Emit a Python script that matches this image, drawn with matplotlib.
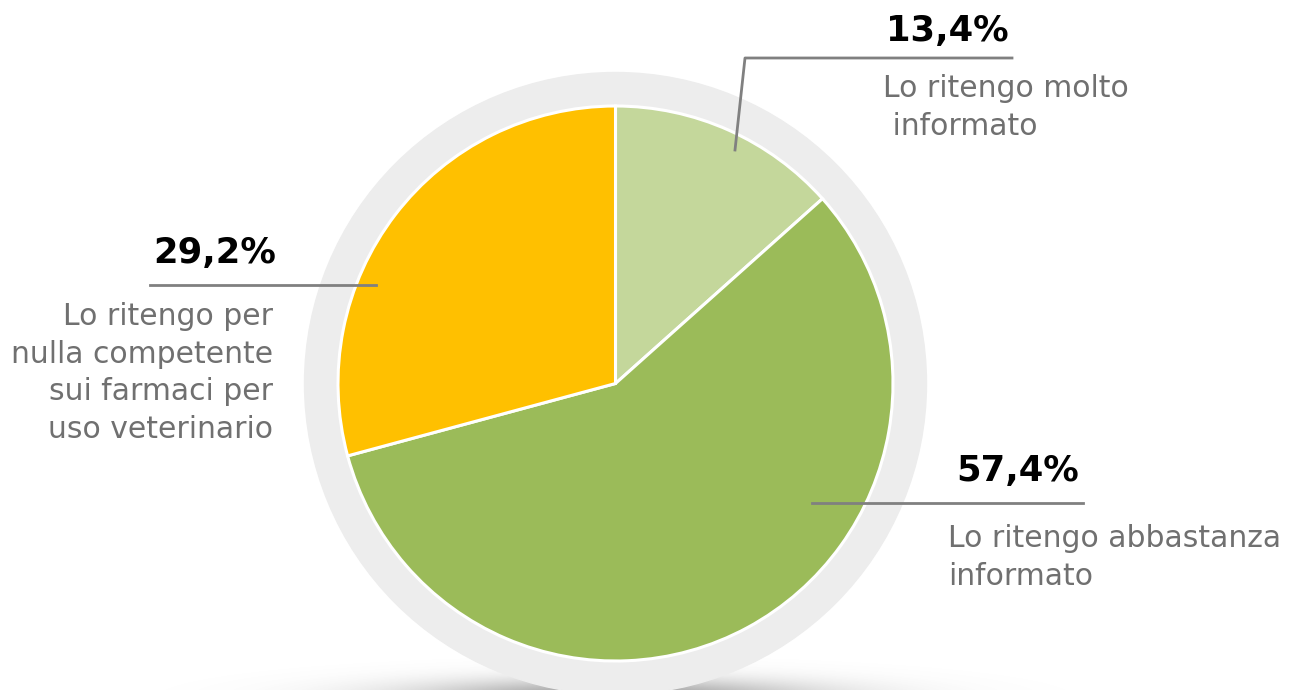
import numpy as np
import matplotlib
matplotlib.use('Agg')
import matplotlib.pyplot as plt
from matplotlib.patches import Circle

# dati
values = [13.4, 57.4, 29.2]
labels = ['Lo ritengo molto\n informato',
          'Lo ritengo abbastanza\ninformato',
          'Lo ritengo per\nnulla competente\nsui farmaci per\nuso veterinario']
colors = ['#C4D79B', '#9BBB59', '#FFC000']

W, H = 1289, 690
plt.rcParams['font.family'] = ['DejaVu Sans']


def Y(py):
    # pixel dall'alto -> coordinata dati
    return H - py


fig = plt.figure(figsize=(W / 100, H / 100), dpi=100)
ax = fig.add_axes([0, 0, 1, 1])

cx, cy, r = 615.5, Y(383.5), 277.5

# ombra sotto il disco
gx = np.linspace(100, 1130, 600)
gy = np.linspace(Y(690), Y(610), 100)
GX, GY = np.meshgrid(gx, gy)
d = ((GX - cx) / 285.0) ** 2 + ((GY - Y(698)) / 26.0) ** 2
alpha = 0.7 * np.exp(-2.0 * d)
img = np.zeros((len(gy), len(gx), 4))
img[..., :3] = 0.42
img[..., 3] = alpha
ax.imshow(img, extent=(gx[0], gx[-1], gy[0], gy[-1]), origin='lower',
          interpolation='bilinear', zorder=0, aspect='auto')

# anello grigio
ax.add_patch(Circle((cx, cy), 311, color='#EDEDED', zorder=1))

ax.pie(values, colors=colors, startangle=90, counterclock=False,
       center=(cx, cy), radius=r,
       wedgeprops=dict(edgecolor='white', linewidth=2.2, zorder=2))

lc = '#808080'
tc = '#707070'
pct = [('%.1f%%' % v).replace('.', ',') for v in values]
pfs, lfs, ls = 25.5, 21.5, 1.38

# 13,4%
ax.plot([735, 745, 1012], [Y(150), Y(58), Y(58)], color=lc, lw=2, zorder=3)
ax.text(1009, Y(31), pct[0], ha='right', va='center', fontsize=pfs,
        fontweight='bold', color='black')
ax.text(883, Y(74), labels[0], ha='left', va='top', fontsize=lfs,
        color=tc, linespacing=ls)

# 57,4%
ax.plot([812, 1083], [Y(503), Y(503)], color=lc, lw=2, zorder=3)
ax.text(1079, Y(471), pct[1], ha='right', va='center', fontsize=pfs,
        fontweight='bold', color='black')
ax.text(948, Y(524), labels[1], ha='left', va='top', fontsize=lfs,
        color=tc, linespacing=ls)

# 29,2%
ax.plot([150, 376], [Y(285), Y(285)], color=lc, lw=2, zorder=3)
ax.text(276, Y(253), pct[2], ha='right', va='center', fontsize=pfs,
        fontweight='bold', color='black')
ax.text(273, Y(302), labels[2], ha='right', va='top', fontsize=lfs,
        color=tc, linespacing=ls, multialignment='right')

ax.set_xlim(0, W)
ax.set_ylim(0, H)
ax.set_aspect('auto')
ax.axis('off')

fig.savefig('out.png', dpi=100, facecolor='white')
